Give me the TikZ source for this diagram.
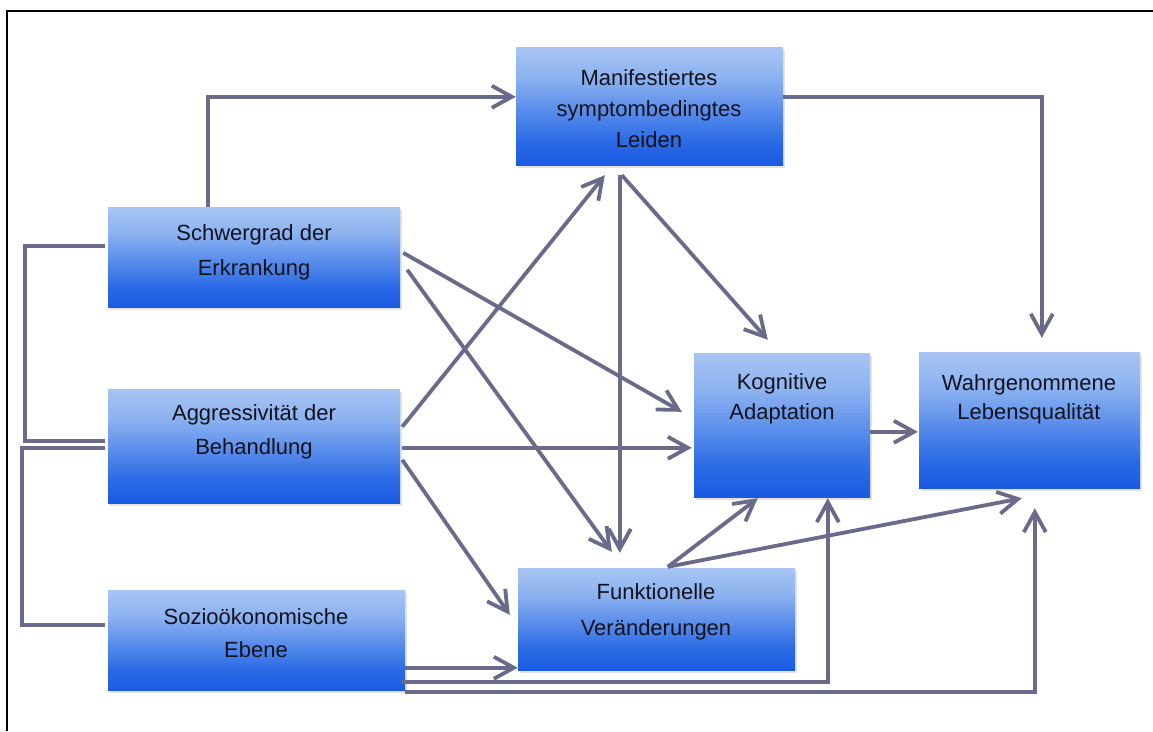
\documentclass[tikz,border=0pt]{standalone}
\usepackage{fontspec}
\setmainfont{Liberation Sans}
\usetikzlibrary{arrows.meta,calc,shadows}

\definecolor{linkc}{RGB}{106,106,138}
\definecolor{shadeA}{RGB}{26,90,226}
\definecolor{shadeB}{RGB}{42,106,229}
\definecolor{shadeC}{RGB}{96,146,236}
\definecolor{shadeD}{RGB}{140,178,240}
\definecolor{shadeE}{RGB}{168,197,243}
\definecolor{txtc}{RGB}{18,18,28}

% vertical blue gradient of the boxes (node spans 25bp..75bp)
\pgfdeclareverticalshading{boxshade}{100bp}{%
  color(0bp)=(shadeA); color(25bp)=(shadeA); color(35bp)=(shadeB);
  color(50bp)=(shadeC); color(62bp)=(shadeD); color(75bp)=(shadeE);
  color(100bp)=(shadeE)}

\begin{document}
\begin{tikzpicture}[x=1pt,y=-1pt,
  box/.style={draw=none, inner sep=0pt, shading=boxshade,
    drop shadow={shadow xshift=1.5pt, shadow yshift=-2.5pt, opacity=0.18, fill=black!60}},
  txt/.style={font=\fontsize{22pt}{#1}\selectfont, align=center, inner sep=0pt, text=txtc},
  txt/.default=32pt,
  link/.style={draw=linkc, line width=3.8pt},
  arr/.style={-{Straight Barb[length=20pt,width=22pt]}}]

\useasboundingbox (0,0) rectangle (1153,731);
\fill[white] (0,0) rectangle (1153,731);

% frame lines
\draw[line width=2pt, black] (7,731) -- (7,10.5) -- (1153,10.5);

% boxes
\node[box, minimum width=267pt, minimum height=118pt] (M) at (649.5,106) {};
\node[box, minimum width=292pt, minimum height=100pt] (S) at (254,257) {};
\node[box, minimum width=292pt, minimum height=114pt] (A) at (254,446) {};
\node[box, minimum width=297pt, minimum height=100pt] (Z) at (256.5,640) {};
\node[box, minimum width=176pt, minimum height=144pt] (K) at (782,425) {};
\node[box, minimum width=221pt, minimum height=136pt] (W) at (1029.5,420) {};
\node[box, minimum width=277pt, minimum height=102pt] (F) at (656.5,619) {};

% box labels
\node[txt=31pt] (Mt) at (649,109) {Manifestiertes\\symptombedingtes\\Leiden};
\node[txt=35pt] (St) at (254,252.5) {Schwergrad der\\Erkrankung};
\node[txt=34pt] (At) at (254,432) {Aggressivität der\\Behandlung};
\node[txt=33pt] (Zt) at (256,633.5) {Sozioökonomische\\Ebene};
\node[txt=30pt] (Kt) at (782,399) {Kognitive\\Adaptation};
\node[txt=29pt] (Wt) at (1029,399.5) {Wahrgenommene\\Lebensqualität};
\node[txt=36pt] (Ft) at (656,612) {Funktionelle\\Veränderungen};

% connectors
\draw[link,arr] ($(S.north west)+(100,0)$) |- ($(M.north west)+(0,50)$);
\draw[link,arr] ($(M.north east)+(0,50)$) -| ($(W.north west)+(123,-14)$);
\draw[link] ($(S.north west)+(-3,39)$) -- ++(-80,0) |- ($(A.north west)+(-3,52)$);
\draw[link] ($(A.north west)+(-3,59)$) -- ++(-83,0) |- ($(Z.north west)+(-3,35)$);
\draw[link,arr] ($(S.north east)+(3,46)$) -- ($(K.north west)+(-12,59)$);
\draw[link,arr] ($(S.north east)+(7,63)$) -- ($(F.north west)+(94,-16)$);
\draw[link,arr] ($(A.north east)+(2,38)$) -- ($(M.south west)+(89,10)$);
\draw[link,arr] ($(A.north east)+(2,59)$) -- ($(K.north west)+(-2,95)$);
\draw[link,arr] ($(A.north east)+(2,71)$) -- ($(F.north west)+(-8,47)$);
\draw[link,arr] ($(M.south west)+(104,10)$) -- ($(F.north west)+(102,-15)$);
\draw[link,arr] ($(M.south west)+(106,10)$) -- ($(K.north west)+(74,-13)$);
\draw[link,arr] ($(K.north east)+(0,79)$) -- ($(W.north west)+(-1,80)$);
\draw[link,arr] ($(F.north west)+(150,-1)$) -- ($(K.south west)+(64,1)$);
\draw[link,arr] ($(F.north west)+(150,-1)$) -- ($(W.south west)+(103,10)$);
\draw[link,arr] ($(Z.north east)+(0,78)$) -- ($(F.north west)+(0,100)$);
\draw[link,arr] ($(Z.north east)+(-3,92)$) -| ($(K.south west)+(134,1)$);
\draw[link,arr] ($(Z.north east)+(0,102)$) -| ($(W.south west)+(116,20)$);

\end{tikzpicture}
\end{document}
